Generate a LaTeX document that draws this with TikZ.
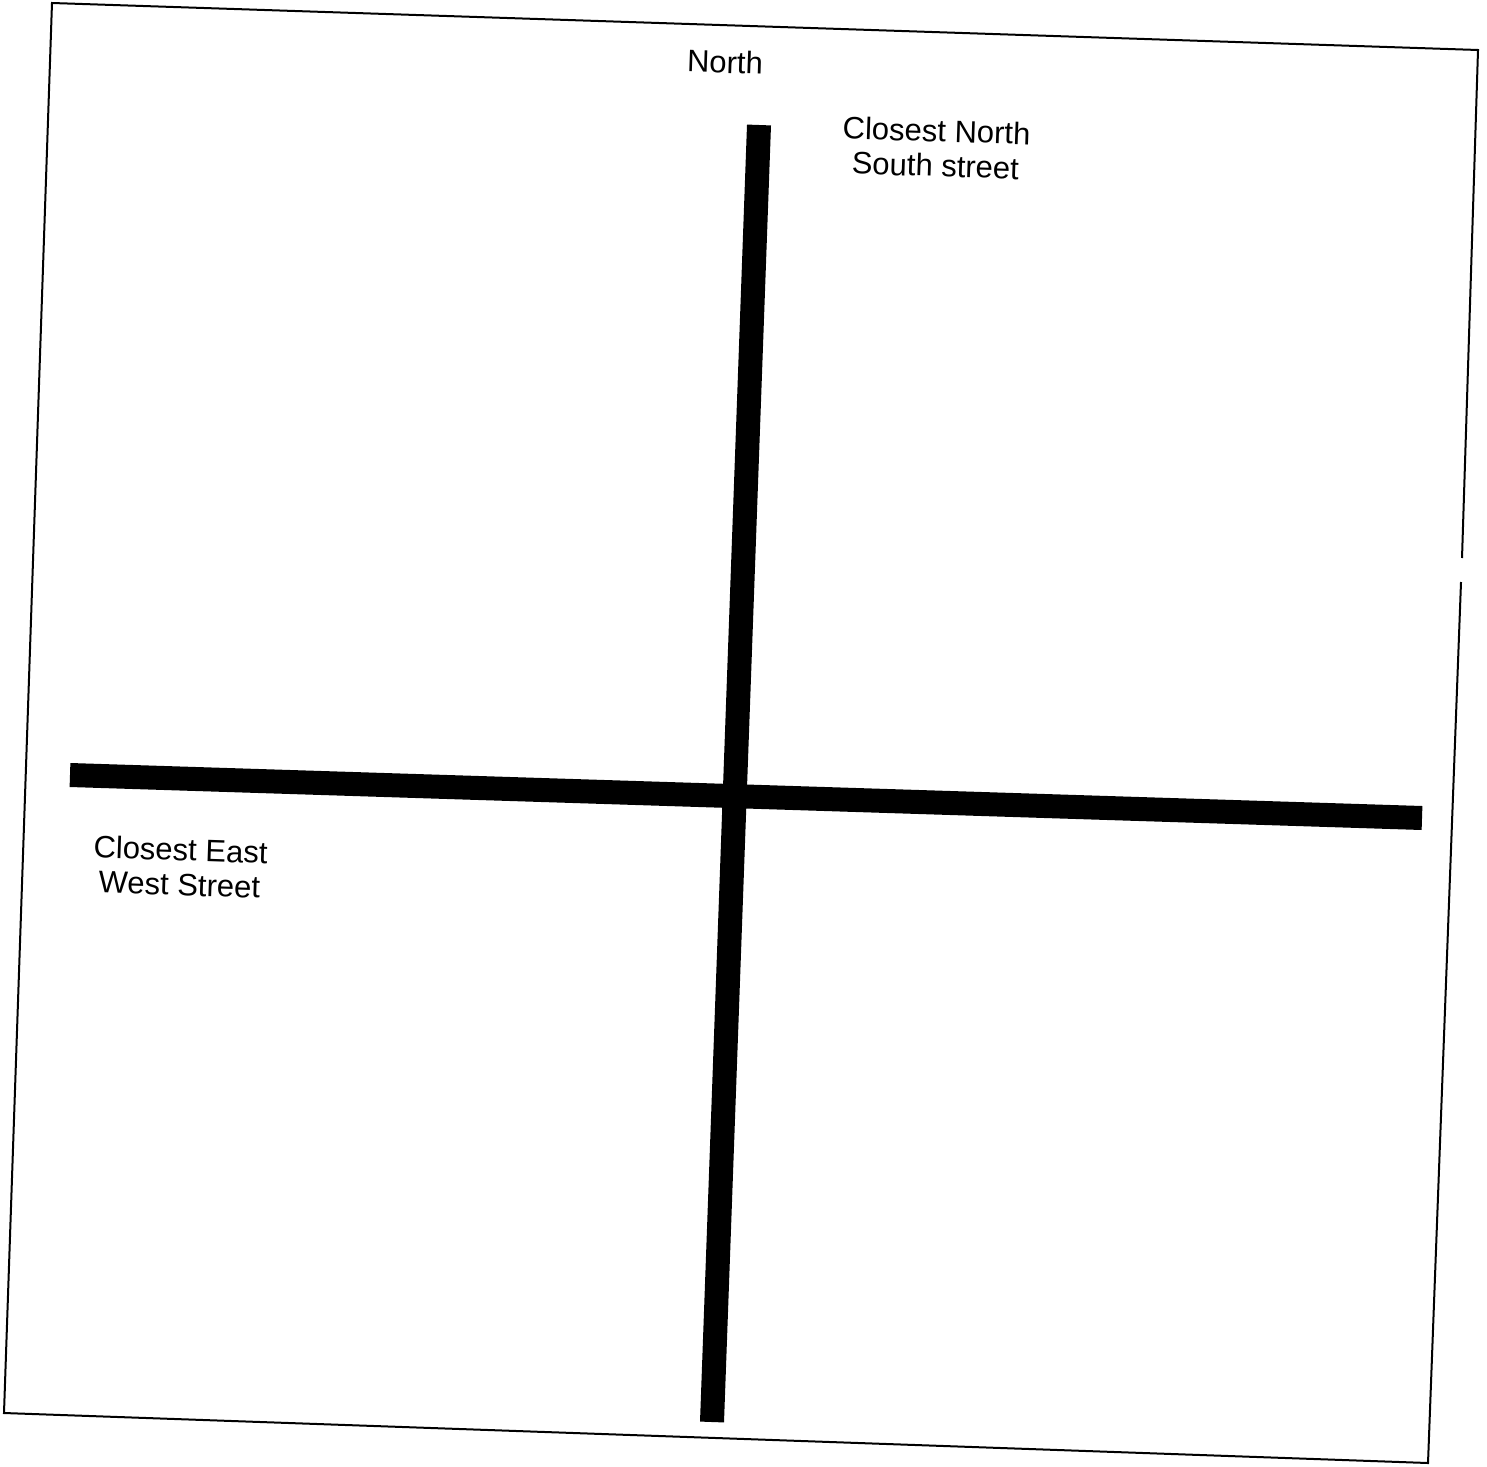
\documentclass[tikz,border=0pt]{standalone}
\usepackage{fontspec}
\setmainfont{Liberation Sans}
\begin{document}
\begin{tikzpicture}[x=0.5pt,y=-0.5pt,
  frame/.style={line width=1pt,black},
  road/.style={line width=12pt,black,line cap=butt},
  lbl/.style={font=\fontsize{15.5}{17.5}\selectfont,align=center,inner sep=0pt,rotate=-1.9}]
\useasboundingbox (0,0) rectangle (1487,1466);
\coordinate (tl) at (52,3);
\coordinate (tr) at (1478,50);
\coordinate (br) at (1428,1463);
\coordinate (bl) at (4,1413);
\coordinate (gapA) at (1462,558);
\coordinate (gapB) at (1461,582);
\draw[frame] (gapA) -- (tr) -- (tl) -- (bl) -- (br) -- (gapB);
\coordinate (nsTop) at (759,125);
\coordinate (nsBot) at (712,1422);
\coordinate (ewL) at (70,775);
\coordinate (ewR) at (1422,818);
\draw[road] (nsTop) -- (nsBot);
\draw[road] (ewL) -- (ewR);
\node[lbl] (north) at (725,62) {North};
\node[lbl] (ns) at (936,148) {Closest North\\South street};
\node[lbl] (ew) at (180,867) {Closest East\\West Street};
\end{tikzpicture}
\end{document}
